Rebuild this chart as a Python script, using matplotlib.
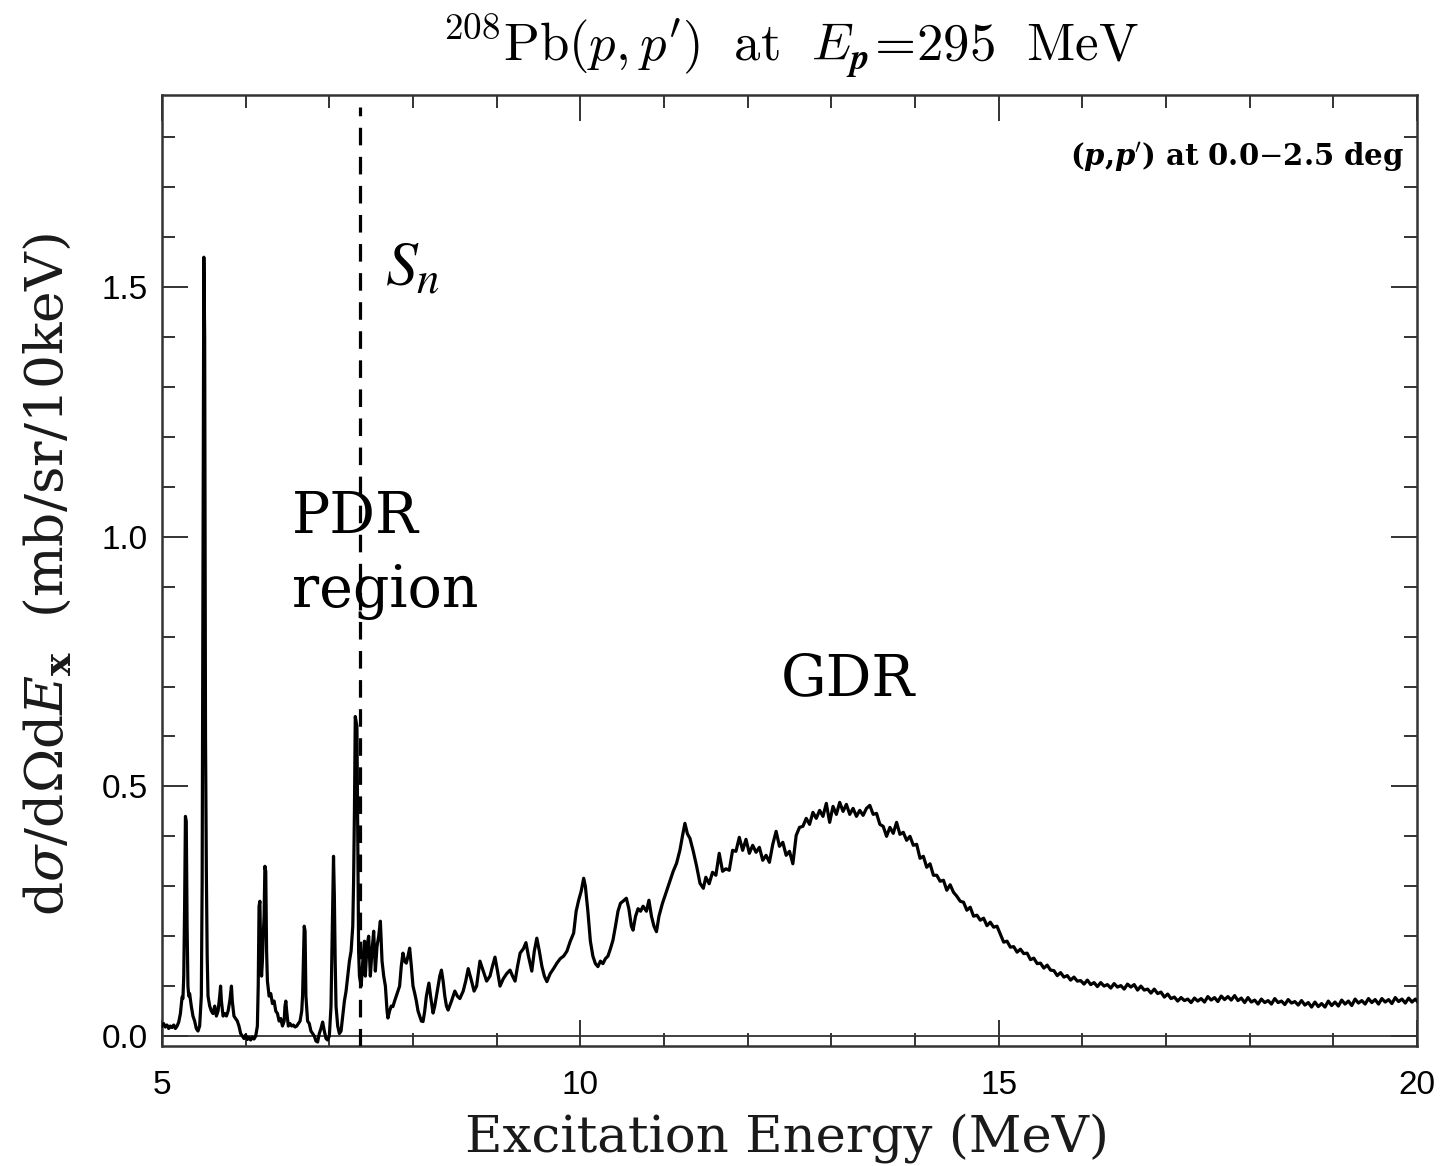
import matplotlib
matplotlib.use("Agg")
import matplotlib.pyplot as plt
from matplotlib.ticker import MultipleLocator, FixedLocator, FixedFormatter

# ---------------- data ----------------
bound_states = [
    (5.00, 0.020), (5.02, 0.025), (5.04, 0.018), (5.06, 0.022), (5.08, 0.015),
    (5.10, 0.020), (5.12, 0.017), (5.14, 0.022), (5.16, 0.015), (5.18, 0.020),
    (5.20, 0.028), (5.22, 0.045), (5.24, 0.078), (5.25, 0.075), (5.26, 0.12),
    (5.27, 0.255), (5.28, 0.44), (5.29, 0.43), (5.30, 0.22), (5.31, 0.10),
    (5.32, 0.08), (5.33, 0.085), (5.35, 0.06), (5.37, 0.04), (5.39, 0.03),
    (5.41, 0.015), (5.43, 0.01), (5.45, 0.02), (5.47, 0.08), (5.48, 0.31),
    (5.49, 0.93), (5.50, 1.56), (5.51, 1.40), (5.52, 0.60), (5.53, 0.33),
    (5.54, 0.16), (5.55, 0.08), (5.57, 0.06), (5.59, 0.05), (5.61, 0.045),
    (5.63, 0.06), (5.65, 0.04), (5.67, 0.05), (5.69, 0.08), (5.70, 0.10),
    (5.71, 0.07), (5.73, 0.04), (5.75, 0.045), (5.77, 0.04), (5.79, 0.05),
    (5.81, 0.07), (5.83, 0.10), (5.84, 0.07), (5.86, 0.04), (5.88, 0.035),
    (5.90, 0.03), (5.92, 0.02), (5.94, 0.005), (5.96, 0.0), (5.98, -0.005),
    (6.00, 0.002), (6.02, -0.007), (6.04, -0.003), (6.06, -0.008), (6.08, -0.002),
    (6.10, -0.006), (6.12, 0.0), (6.14, 0.02), (6.15, 0.10), (6.16, 0.26),
    (6.17, 0.27), (6.18, 0.16), (6.19, 0.12), (6.20, 0.15), (6.21, 0.20),
    (6.22, 0.24), (6.23, 0.34), (6.24, 0.33), (6.25, 0.17), (6.26, 0.11),
    (6.28, 0.08), (6.30, 0.085), (6.32, 0.065), (6.34, 0.07), (6.36, 0.05),
    (6.38, 0.045), (6.40, 0.03), (6.42, 0.035), (6.44, 0.02), (6.46, 0.03),
    (6.47, 0.06), (6.48, 0.07), (6.49, 0.05), (6.51, 0.02), (6.53, 0.025),
    (6.55, 0.02), (6.57, 0.022), (6.59, 0.018), (6.61, 0.02), (6.63, 0.025),
    (6.65, 0.03), (6.67, 0.05), (6.68, 0.08), (6.69, 0.15), (6.70, 0.22),
    (6.71, 0.21), (6.72, 0.08), (6.74, 0.03), (6.76, 0.025), (6.78, 0.01),
    (6.80, 0.005), (6.82, 0.0), (6.84, -0.01), (6.86, -0.012), (6.88, 0.005),
    (6.90, 0.015), (6.92, 0.028), (6.94, 0.01), (6.96, -0.005), (6.98, -0.008),
    (7.00, 0.0), (7.02, 0.06), (7.03, 0.16), (7.04, 0.27), (7.05, 0.36),
    (7.06, 0.28), (7.07, 0.15), (7.08, 0.06), (7.10, 0.02), (7.12, 0.005),
    (7.14, 0.01), (7.16, 0.04), (7.18, 0.07), (7.20, 0.09), (7.22, 0.12),
    (7.24, 0.15), (7.26, 0.17), (7.28, 0.22), (7.29, 0.31), (7.30, 0.45),
    (7.31, 0.64), (7.32, 0.63), (7.33, 0.62), (7.34, 0.40), (7.35, 0.17),
    (7.36, 0.12),
]

pdr_region = [
    (7.38, 0.10), (7.40, 0.15), (7.42, 0.19), (7.43, 0.12), (7.45, 0.18),
    (7.47, 0.20), (7.49, 0.12), (7.51, 0.17), (7.53, 0.21), (7.55, 0.13),
    (7.57, 0.18), (7.59, 0.20), (7.61, 0.23), (7.63, 0.15), (7.65, 0.12),
    (7.67, 0.10), (7.69, 0.05), (7.70, 0.036), (7.72, 0.05), (7.74, 0.06),
    (7.76, 0.059), (7.78, 0.07), (7.80, 0.08), (7.82, 0.09), (7.84, 0.10),
    (7.86, 0.14), (7.88, 0.166), (7.90, 0.15), (7.92, 0.146), (7.94, 0.16),
    (7.96, 0.176), (7.98, 0.14), (8.00, 0.10), (8.02, 0.086), (8.04, 0.07),
    (8.06, 0.05), (8.08, 0.04), (8.10, 0.03), (8.12, 0.029), (8.14, 0.05),
    (8.16, 0.08), (8.19, 0.106), (8.21, 0.08), (8.24, 0.046), (8.26, 0.06),
    (8.28, 0.08), (8.30, 0.10), (8.32, 0.12), (8.34, 0.132), (8.36, 0.11),
    (8.38, 0.08), (8.40, 0.06), (8.42, 0.052),
]

rising_continuum = [
    (8.46, 0.07), (8.50, 0.09), (8.53, 0.08), (8.56, 0.075), (8.60, 0.09),
    (8.63, 0.11), (8.66, 0.135), (8.70, 0.11), (8.73, 0.09), (8.76, 0.10),
    (8.80, 0.15), (8.84, 0.13), (8.88, 0.11), (8.92, 0.12), (8.95, 0.14),
    (8.98, 0.158), (9.01, 0.13), (9.04, 0.10), (9.08, 0.115), (9.12, 0.125),
    (9.16, 0.132), (9.19, 0.12), (9.22, 0.11), (9.25, 0.14), (9.28, 0.166),
    (9.32, 0.175), (9.35, 0.187), (9.38, 0.16), (9.42, 0.13), (9.45, 0.17),
    (9.48, 0.196), (9.51, 0.17), (9.54, 0.14), (9.57, 0.12), (9.60, 0.109),
    (9.64, 0.125), (9.68, 0.135), (9.72, 0.146), (9.76, 0.155), (9.80, 0.16),
    (9.84, 0.17), (9.88, 0.19), (9.92, 0.206), (9.95, 0.25), (9.98, 0.272),
    (10.01, 0.29), (10.04, 0.316), (10.06, 0.30), (10.09, 0.25), (10.12, 0.19),
    (10.15, 0.16), (10.18, 0.145), (10.21, 0.139), (10.24, 0.15), (10.27, 0.145),
    (10.30, 0.155), (10.33, 0.16), (10.36, 0.175), (10.39, 0.192), (10.42, 0.22),
    (10.45, 0.25), (10.48, 0.266), (10.51, 0.27), (10.55, 0.276), (10.58, 0.255),
    (10.61, 0.22), (10.63, 0.212), (10.66, 0.24), (10.69, 0.255), (10.72, 0.25),
    (10.75, 0.26), (10.79, 0.25), (10.82, 0.272), (10.85, 0.24), (10.88, 0.22),
    (10.91, 0.209), (10.94, 0.24), (10.98, 0.265), (11.03, 0.29), (11.07, 0.31),
    (11.11, 0.33), (11.15, 0.346), (11.19, 0.372), (11.22, 0.40), (11.25, 0.426),
    (11.28, 0.405), (11.31, 0.396), (11.35, 0.37), (11.39, 0.34), (11.43, 0.306),
    (11.47, 0.296),
]

gdr_region = [
    (11.50, 0.318), (11.54, 0.305), (11.58, 0.328), (11.62, 0.322), (11.66, 0.366),
    (11.70, 0.330), (11.74, 0.335), (11.78, 0.332), (11.82, 0.372), (11.86, 0.370),
    (11.90, 0.398), (11.94, 0.372), (11.98, 0.394), (12.02, 0.366), (12.06, 0.382),
    (12.10, 0.368), (12.14, 0.378), (12.18, 0.352), (12.22, 0.362), (12.26, 0.348),
    (12.30, 0.384), (12.34, 0.410), (12.38, 0.380), (12.42, 0.388), (12.46, 0.362),
    (12.50, 0.370), (12.54, 0.345), (12.58, 0.402), (12.62, 0.418), (12.66, 0.420),
    (12.70, 0.436), (12.74, 0.424), (12.78, 0.448), (12.82, 0.436), (12.86, 0.452),
    (12.90, 0.440), (12.94, 0.466), (12.98, 0.428), (13.02, 0.460), (13.06, 0.444),
    (13.10, 0.468), (13.14, 0.450), (13.18, 0.464), (13.22, 0.444), (13.26, 0.456),
    (13.30, 0.440), (13.34, 0.452), (13.38, 0.442), (13.42, 0.456), (13.46, 0.462),
    (13.50, 0.444), (13.54, 0.446), (13.58, 0.424), (13.62, 0.420), (13.66, 0.400),
    (13.70, 0.418), (13.74, 0.406), (13.78, 0.428), (13.82, 0.404), (13.86, 0.408),
    (13.90, 0.392), (13.94, 0.400), (13.98, 0.382), (14.02, 0.384), (14.06, 0.356),
    (14.10, 0.360), (14.14, 0.338), (14.18, 0.345), (14.22, 0.322), (14.26, 0.322),
    (14.30, 0.310), (14.34, 0.312), (14.38, 0.292), (14.42, 0.303), (14.46, 0.288),
    (14.50, 0.280), (14.54, 0.270), (14.58, 0.268), (14.62, 0.252), (14.66, 0.258),
    (14.70, 0.240), (14.74, 0.242), (14.78, 0.232), (14.82, 0.236), (14.86, 0.221),
    (14.90, 0.228), (14.94, 0.218), (14.98, 0.220),
]

high_tail = [
    (15.02, 0.204), (15.06, 0.188), (15.10, 0.190), (15.14, 0.178), (15.18, 0.179),
    (15.22, 0.168), (15.26, 0.174), (15.30, 0.165), (15.34, 0.166), (15.38, 0.153),
    (15.42, 0.156), (15.46, 0.145), (15.50, 0.146), (15.54, 0.136), (15.58, 0.142),
    (15.62, 0.132), (15.66, 0.131), (15.70, 0.121), (15.74, 0.127), (15.78, 0.118),
    (15.82, 0.121), (15.86, 0.112), (15.90, 0.118), (15.94, 0.110), (15.98, 0.111),
    (16.02, 0.104), (16.06, 0.112), (16.10, 0.103), (16.14, 0.107), (16.18, 0.099),
    (16.22, 0.107), (16.26, 0.100), (16.30, 0.103), (16.34, 0.096), (16.38, 0.105),
    (16.42, 0.098), (16.46, 0.101), (16.50, 0.094), (16.54, 0.104), (16.58, 0.098),
    (16.62, 0.103), (16.66, 0.092), (16.70, 0.100), (16.74, 0.092), (16.78, 0.094),
    (16.82, 0.086), (16.86, 0.094), (16.90, 0.085), (16.94, 0.088), (16.98, 0.078),
    (17.02, 0.084), (17.06, 0.075), (17.10, 0.078), (17.14, 0.070), (17.18, 0.077),
    (17.22, 0.071), (17.26, 0.074), (17.30, 0.067), (17.34, 0.076), (17.38, 0.070),
    (17.42, 0.075), (17.46, 0.068), (17.50, 0.079), (17.54, 0.072), (17.58, 0.077),
    (17.62, 0.069), (17.66, 0.080), (17.70, 0.073), (17.74, 0.079), (17.78, 0.072),
    (17.82, 0.081), (17.86, 0.071), (17.90, 0.076), (17.94, 0.067), (17.98, 0.077),
    (18.02, 0.068), (18.06, 0.072), (18.10, 0.064), (18.14, 0.074), (18.18, 0.067),
    (18.22, 0.071), (18.26, 0.064), (18.30, 0.075), (18.34, 0.067), (18.38, 0.070),
    (18.42, 0.063), (18.46, 0.073), (18.50, 0.066), (18.54, 0.069), (18.58, 0.062),
    (18.62, 0.071), (18.66, 0.062), (18.70, 0.067), (18.74, 0.058), (18.78, 0.068),
    (18.82, 0.059), (18.86, 0.065), (18.90, 0.058), (18.94, 0.070), (18.98, 0.061),
    (19.02, 0.068), (19.06, 0.060), (19.10, 0.072), (19.14, 0.064), (19.18, 0.070),
    (19.22, 0.061), (19.26, 0.074), (19.30, 0.066), (19.34, 0.071), (19.38, 0.064),
    (19.42, 0.075), (19.46, 0.067), (19.50, 0.073), (19.54, 0.064), (19.58, 0.075),
    (19.62, 0.068), (19.66, 0.073), (19.70, 0.065), (19.74, 0.077), (19.78, 0.069),
    (19.82, 0.074), (19.86, 0.066), (19.90, 0.076), (19.94, 0.068), (19.98, 0.074),
    (20.00, 0.070),
]

sn_energy = 7.37
x_ticks = [5, 10, 15, 20]
x_ticklabels = ["5", "10", "15", "20"]
y_ticks = [0.0, 0.5, 1.0, 1.5]
y_ticklabels = ["0.0", "0.5", "1.0", "1.5"]

spectrum = bound_states + pdr_region + rising_continuum + gdr_region + high_tail
energy = [p[0] for p in spectrum]
xsec = [p[1] for p in spectrum]

# ---------------- figure ----------------
W, H = 1445, 1166
fig = plt.figure(figsize=(W / 100, H / 100), dpi=100)
ax = fig.add_axes([162 / W, 1 - 1046 / H, (1417 - 162) / W, (1046 - 95) / H])

spine_col = "#333333"
ax.plot(energy, xsec, color="black", lw=2.3, zorder=3)
ax.axhline(0.0, color=spine_col, lw=1.3, zorder=2)
ax.vlines(sn_energy, -0.02, 1.86, colors="black", lw=2.3,
          linestyles=(0, (5.5, 3.6)), zorder=4)

ax.set_xlim(5, 20)
ax.set_ylim(-0.02, 1.885)

for s in ax.spines.values():
    s.set_color(spine_col)
    s.set_linewidth(1.8)

ax.xaxis.set_major_locator(FixedLocator(x_ticks))
ax.xaxis.set_major_formatter(FixedFormatter(x_ticklabels))
ax.xaxis.set_minor_locator(MultipleLocator(1))
ax.yaxis.set_major_locator(FixedLocator(y_ticks))
ax.yaxis.set_major_formatter(FixedFormatter(y_ticklabels))
ax.yaxis.set_minor_locator(MultipleLocator(0.1))

ax.tick_params(which="both", direction="in", top=True, right=True,
               color=spine_col, width=1.4)
ax.tick_params(which="major", length=19)
ax.tick_params(which="minor", length=9.5)
ax.tick_params(axis="x", which="major", pad=17)
ax.tick_params(axis="y", which="major", pad=10)
for lab in ax.get_xticklabels() + ax.get_yticklabels():
    lab.set_fontfamily("Liberation Sans")
    lab.set_fontsize(24)
    lab.set_color("black")

# titles / labels
fig.text(790 / W, 1 - 61 / H,
         r"$^{208}\mathrm{Pb}(p,p^{\prime})\ \ \mathrm{at}\ \ E_{\mathbfit{p}}\!=\!295\ \ \mathrm{MeV}$",
         ha="center", va="baseline", fontsize=38, math_fontfamily="cm")
fig.text(787 / W, 1 - 1138 / H, "Excitation Energy (MeV)",
         ha="center", va="center", fontsize=37, family="DejaVu Serif", color="#1a1a1a")
fig.text(48 / W, 1 - 575 / H,
         r"d$\sigma$/d$\Omega$d$E_{\mathbf{x}}$  (mb/sr/10keV)",
         ha="center", va="center", rotation=90, fontsize=38.5,
         family="DejaVu Serif", math_fontfamily="dejavuserif", color="#1a1a1a")

ax.text(0.99, 0.935, r"($\mathbfit{p}$,$\mathbfit{p}^{\prime}$) at 0.0$-$2.5 deg",
        transform=ax.transAxes, ha="right", va="center", fontsize=21,
        family="DejaVu Serif", weight="bold", math_fontfamily="dejavuserif")

# annotations
ax.text(6.554, 1.007, "PDR", ha="left", va="baseline", fontsize=41,
        family="DejaVu Serif")
ax.text(6.554, 0.859, "region", ha="left", va="baseline", fontsize=41,
        family="DejaVu Serif")
ax.text(12.39, 0.683, "GDR", ha="left", va="baseline", fontsize=41,
        family="DejaVu Serif")
ax.text(7.66, 1.505, r"$S_n$", ha="left", va="baseline", fontsize=46,
        math_fontfamily="stix")

fig.savefig("out.png", dpi=100)
